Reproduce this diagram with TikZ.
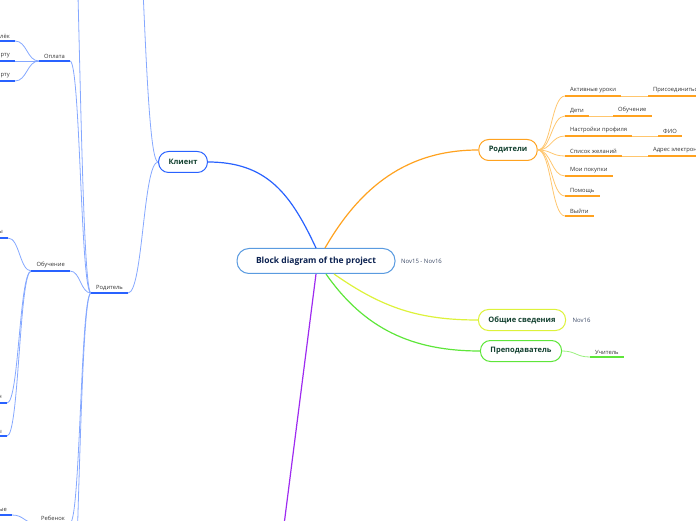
\documentclass[tikz,border=0pt]{standalone}
\usepackage{fontspec}
\setmainfont{Open Sans}
\usetikzlibrary{positioning,calc}

\definecolor{rootline}{HTML}{5A9BE0}
\definecolor{rootink}{HTML}{0B2150}
\definecolor{nodeink}{HTML}{12402F}
\definecolor{topicink}{HTML}{333333}
\definecolor{dateink}{HTML}{3C4A66}
\definecolor{clientblue}{HTML}{2962FF}
\definecolor{clientsoft}{HTML}{85A8FF}
\definecolor{parentorange}{HTML}{FFA21F}
\definecolor{parentsoft}{HTML}{FFC66E}
\definecolor{infoyellow}{HTML}{DDF23A}
\definecolor{teachgreen}{HTML}{5EE63A}
\definecolor{teachsoft}{HTML}{9AF07E}
\definecolor{lineviolet}{HTML}{9E2BF0}

\begin{document}
\begin{tikzpicture}[x=1pt,y=1pt,
    root/.style={draw=rootline, line width=1pt, fill=white, rounded corners=12pt,
      minimum width=158pt, minimum height=25pt, text=rootink,
      font=\fontsize{8.5}{10}\selectfont\bfseries},
    branch/.style={draw=#1, line width=1pt, fill=white, rounded corners=10pt,
      minimum height=21pt, inner xsep=10pt, text=nodeink,
      font=\fontsize{7.5}{9}\selectfont\bfseries},
    topic/.style={inner xsep=5pt, inner ysep=2.5pt, text=topicink,
      font=\fontsize{5.8}{6.5}\selectfont},
    date/.style={text=dateink, font=\fontsize{6}{7}\selectfont},
    uline/.style={draw=#1, line width=1.3pt},
    link/.style={draw=#1, line width=1.2pt},
    sublink/.style={draw=#1, line width=0.8pt,
      to path={.. controls ($(\tikztostart)!0.5!(\tikztostart -| \tikztotarget)$)
        and ($(\tikztotarget)!0.5!(\tikztotarget -| \tikztostart)$) .. (\tikztotarget)}},
  ]
    \useasboundingbox (0,0) rectangle (696,520);
    \clip (0,0) rectangle (696,520);

    \node[root] (root) at (316,259) {Block diagram of the project};
    \node[date, right=2pt of root] (span) {Nov15 - Nov16};
    \node[branch=clientblue] (klient) at (183,358) {Клиент};
    \node[branch=parentorange] (roditeli) at (508,370) {Родители};
    \node[branch=infoyellow] (info) at (522,200) {Общие сведения};
    \node[date, right=3pt of info] (infodate) {Nov16};
    \node[branch=teachgreen] (teacher) at (521,169) {Преподаватель};

    \draw[link=clientblue] (root.north) to[out=115,in=0,looseness=1.1] (klient.east);
    \draw[link=parentorange] ([xshift=9pt]root.north) to[out=60,in=180] (roditeli.west);
    \draw[link=infoyellow] ([xshift=18pt]root.south) to[out=-35,in=180] (info.west);
    \draw[link=teachgreen] ([xshift=10pt]root.south) to[out=-55,in=180] (teacher.west);
    \coordinate (violetend) at (284,-5);
    \draw[link=lineviolet] (root.south) -- (violetend);

    \node[topic, anchor=south west] (aktiv) at (565,424) {Активные уроки};
    \node[topic, anchor=south west] (prisoed) at (648,424) {Присоединиться};
    \node[topic, anchor=south west] (deti) at (565,404) {Дети};
    \node[topic, anchor=south west] (detiobuch) at (613,404) {Обучение};
    \node[topic, anchor=south west] (nastr) at (565,384) {Настройки профиля};
    \node[topic, anchor=south west] (fio) at (658,384) {ФИО};
    \node[topic, anchor=south west] (spisok) at (565,364) {Список желаний};
    \node[topic, anchor=south west] (adres) at (648,364) {Адрес электронной почты};
    \node[topic, anchor=south west] (pokupki) at (565,344) {Мои покупки};
    \node[topic, anchor=south west] (pomosch) at (565,324) {Помощь};
    \node[topic, anchor=south west] (vyiti) at (565,304) {Выйти};
    \foreach \t in {aktiv,deti,nastr,spisok,pokupki,pomosch,vyiti}
      \draw[sublink=parentsoft] (roditeli.east) to (\t.south west);
    \draw[sublink=parentsoft] (aktiv.south east) to (prisoed.south west);
    \draw[sublink=parentsoft] (deti.south east) to (detiobuch.south west);
    \draw[sublink=parentsoft] (nastr.south east) to (fio.south west);
    \draw[sublink=parentsoft] (spisok.south east) to (adres.south west);
    \foreach \t in {aktiv,prisoed,deti,detiobuch,nastr,fio,spisok,adres,pokupki,pomosch,vyiti}
      \draw[uline=parentorange] (\t.south west) -- (\t.south east);

    \node[topic, anchor=south west] (uchitel) at (590,163) {Учитель};
    \draw[sublink=teachsoft] (teacher.east) to (uchitel.south west);
    \draw[uline=teachgreen] (uchitel.south west) -- (uchitel.south east);

    \node[topic, anchor=south west] (rod) at (91,227) {Родитель};
    \node[topic, anchor=south east] (oplata) at (70,459) {Оплата};
    \node[topic, anchor=south east] (obuch) at (70,249) {Обучение};
    \node[topic, anchor=south east] (rebenok) at (70,-3) {Ребенок};
    \node[topic, anchor=south east] (koshelek) at (15,479) {Кошелёк};
    \node[topic, anchor=south east] (karta) at (15,459) {Привязать карту};
    \node[topic, anchor=south east] (kartadel) at (15,439) {Удалить карту};
    \node[topic, anchor=south east] (kursy) at (8,282) {Курсы};
    \node[topic, anchor=south east] (zaversh) at (7,117) {Урок завершен};
    \node[topic, anchor=south east] (testy) at (7,84) {Тесты};
    \node[topic, anchor=south east] (dannye) at (12,5) {Личные данные};
    \coordinate (klientup) at (128,700);
    \coordinate (rodup) at (68,700);
    \coordinate (roddown) at (66,-180);

    \draw[sublink=clientsoft] (klient.west) to (klientup);
    \draw[sublink=clientsoft] (klient.west) to (rod.south east);
    \foreach \t in {oplata,obuch,rebenok}
      \draw[sublink=clientsoft] (rod.south west) to (\t.south east);
    \draw[sublink=clientsoft] (rod.south west) to (rodup);
    \draw[sublink=clientsoft] (rod.south west) to (roddown);
    \foreach \t in {koshelek,karta,kartadel}
      \draw[sublink=clientsoft] (oplata.south west) to (\t.south east);
    \foreach \t in {kursy,zaversh,testy}
      \draw[sublink=clientsoft] (obuch.south west) to (\t.south east);
    \draw[sublink=clientsoft] (rebenok.south west) to (dannye.south east);
    \foreach \t in {rod,oplata,obuch,rebenok,koshelek,karta,kartadel,kursy,zaversh,testy,dannye}
      \draw[uline=clientblue] (\t.south west) -- (\t.south east);
\end{tikzpicture}
\end{document}
